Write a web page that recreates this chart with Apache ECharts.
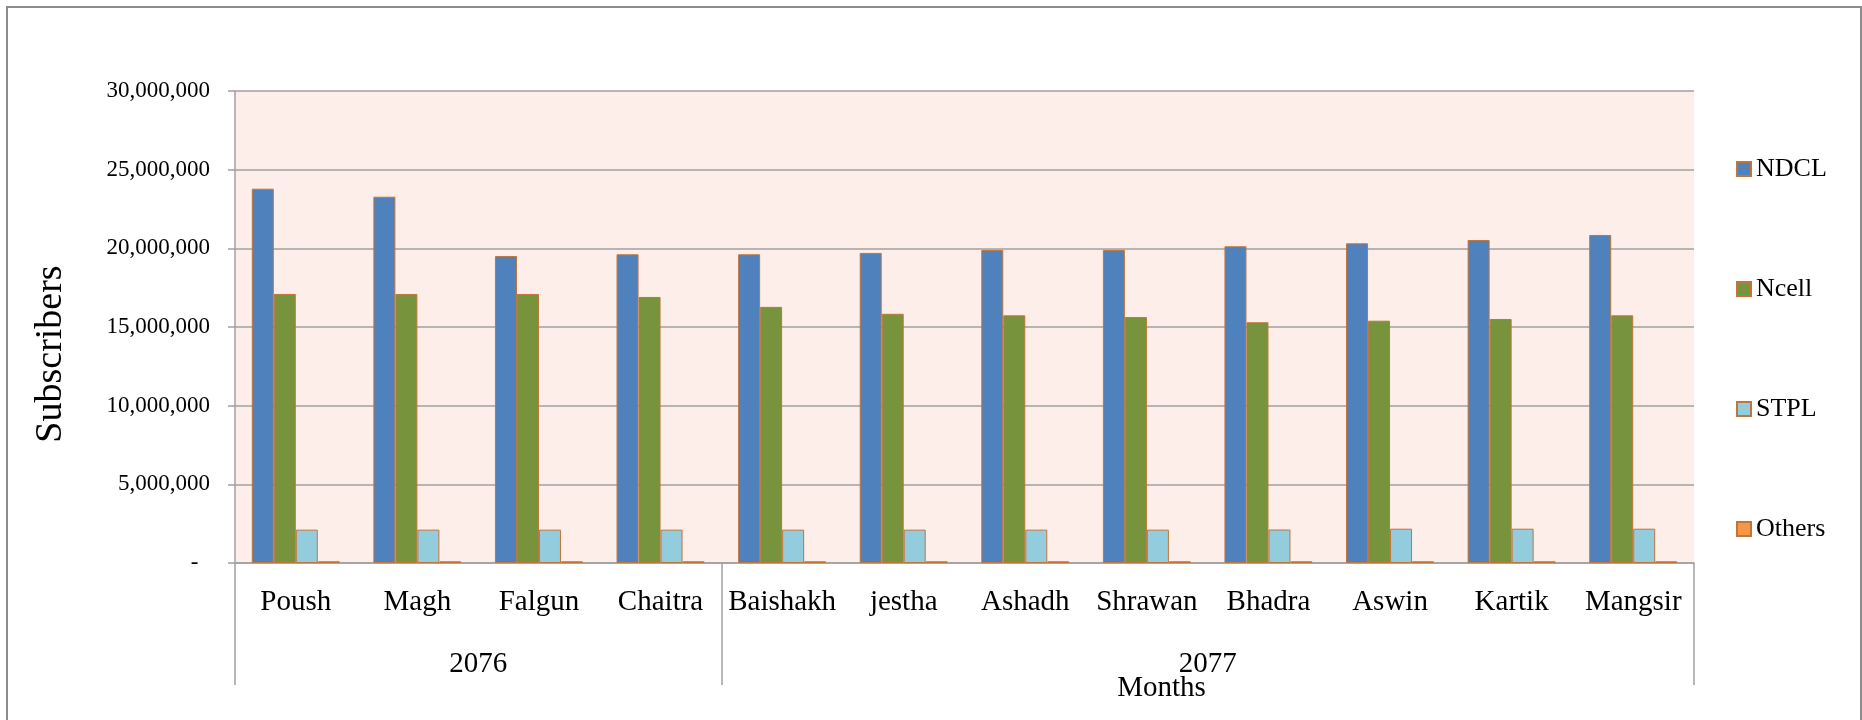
<!DOCTYPE html>
<html>
<head>
<meta charset="utf-8">
<script src="https://cdn.jsdelivr.net/npm/echarts@6/dist/echarts.min.js"></script>
<style>
html,body{margin:0;padding:0;background:#fff;}
#chart{width:1862px;height:720px;}
</style>
</head>
<body>
<div id="chart"></div>
<script>
const months = ['Poush','Magh','Falgun','Chaitra','Baishakh','jestha','Ashadh','Shrawan','Bhadra','Aswin','Kartik','Mangsir'];
const years = ['2076','2077'];
const yearSpans = [4, 8];
const seriesNames = ['NDCL','Ncell','STPL','Others'];
const ndcl   = [23790000, 23280000, 19510000, 19620000, 19620000, 19710000, 19900000, 19900000, 20130000, 20320000, 20530000, 20850000];
const ncell  = [17100000, 17100000, 17100000, 16910000, 16280000, 15840000, 15740000, 15630000, 15300000, 15400000, 15510000, 15740000];
const stpl   = [2120000, 2120000, 2120000, 2120000, 2120000, 2120000, 2120000, 2120000, 2130000, 2180000, 2180000, 2180000];
const others = [110000, 110000, 110000, 110000, 110000, 110000, 110000, 110000, 110000, 110000, 110000, 110000];
const yMin = 0, yMax = 30000000, yStep = 5000000;

// year group boundaries and centres derived from spans
const bounds = [0];
yearSpans.forEach(s => bounds.push(bounds[bounds.length - 1] + s));
const centres = yearSpans.map((s, i) => bounds[i] + s / 2);

const FONT = '"Liberation Serif", "Times New Roman", serif';
const GRID_COL = '#a0a0a0';
const BORDER = '#c0753a';

const chart = echarts.init(document.getElementById('chart'), null, {renderer: 'canvas'});

function bar(name, data, color) {
  return {
    name: name, type: 'bar', data: data, xAxisIndex: 0,
    barWidth: 22, barGap: '0%',
    itemStyle: {color: color, borderColor: BORDER, borderWidth: 1},
    emphasis: {disabled: true}
  };
}

chart.setOption({
  animation: false,
  backgroundColor: '#ffffff',
  graphic: [{
    type: 'rect', z: -10, silent: true,
    shape: {x: 7, y: 7, width: 1854, height: 720},
    style: {fill: 'none', stroke: '#8c8c8c', lineWidth: 2}
  }],
  grid: {
    left: 235, right: 168, top: 91, bottom: 157,
    show: true, backgroundColor: '#fdeee9', borderWidth: 0
  },
  legend: {
    orient: 'vertical', left: 1731, top: 151,
    itemWidth: 14, itemHeight: 14, itemGap: 94, icon: 'rect',
    data: seriesNames,
    textStyle: {fontFamily: FONT, fontSize: 26, lineHeight: 26, color: '#000'}
  },
  xAxis: [{
    type: 'category', data: months, position: 'bottom',
    axisLine: {show: true, lineStyle: {color: GRID_COL, width: 1.5}},
    axisTick: {show: false},
    axisLabel: {margin: 25, fontFamily: FONT, fontSize: 29, color: '#000', interval: 0}
  }, {
    type: 'value', min: 0, max: months.length, position: 'bottom',
    splitLine: {show: false},
    axisLine: {show: false},
    axisTick: {show: true, customValues: bounds, length: 122, lineStyle: {color: GRID_COL, width: 1.5}},
    axisLabel: {
      customValues: centres, margin: 87, fontFamily: FONT, fontSize: 29, color: '#000',
      formatter: function (v) { const i = centres.indexOf(v); return i >= 0 ? years[i] : ''; }
    },
    name: 'Months', nameLocation: 'middle', nameGap: 111, nameMoveOverlap: false,
    nameTextStyle: {fontFamily: FONT, fontSize: 29, color: '#000', padding: [0, 0, 0, 394]}
  }],
  yAxis: {
    type: 'value', min: yMin, max: yMax, interval: yStep,
    name: 'Subscribers', nameLocation: 'middle', nameGap: 165, nameRotate: 90, nameMoveOverlap: false,
    nameTextStyle: {fontFamily: FONT, fontSize: 38, color: '#000', padding: [0, 54, 0, 0]},
    axisLine: {show: true, lineStyle: {color: GRID_COL, width: 1.5}},
    axisTick: {show: true, length: 7, lineStyle: {color: GRID_COL, width: 1.5}},
    splitLine: {show: true, lineStyle: {color: GRID_COL, width: 1.5}},
    axisLabel: {
      margin: 25, fontFamily: FONT, fontSize: 23, color: '#000',
      formatter: function (v) { return v === 0 ? '-  ' : v.toLocaleString('en-US'); }
    }
  },
  series: [
    bar(seriesNames[0], ndcl, '#4f81bd'),
    bar(seriesNames[1], ncell, '#77933c'),
    bar(seriesNames[2], stpl, '#93cddd'),
    bar(seriesNames[3], others, '#f79646')
  ]
});
</script>
</body>
</html>
